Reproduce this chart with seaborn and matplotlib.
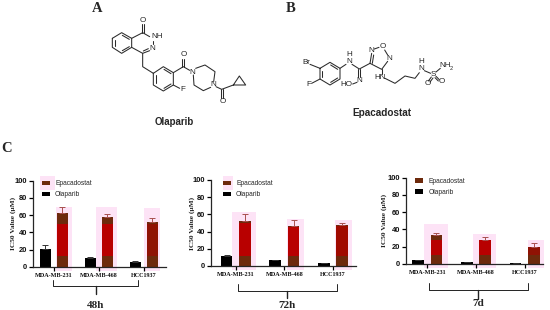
import numpy as np
import pandas as pd
import matplotlib
matplotlib.use("Agg")
import matplotlib.pyplot as plt
from matplotlib.patches import Rectangle
import seaborn as sns

W, H = 550, 310

cell_lines = ["MDA-MB-231", "MDA-MB-468", "HCC1937"]
drugs = ["Olaparib", "Epacadostat"]
times = ["48h", "72h", "7d"]

olaparib_48h = [21, 10.5, 5]
olaparib_48h_err = [4.5, 1, 1.5]
epacadostat_48h = [62, 58, 52]
epacadostat_48h_err = [8, 3.5, 5]

olaparib_72h = [12, 6.5, 3.5]
olaparib_72h_err = [0.5, 0.5, 0.3]
epacadostat_72h = [52, 46, 48]
epacadostat_72h_err = [8, 8, 2.5]

olaparib_7d = [4, 2, 0.7]
olaparib_7d_err = [0.4, 0.4, 0.2]
epacadostat_7d = [33.5, 28, 20]
epacadostat_7d_err = [2, 3.5, 3.5]

BROWN = "#6d2a0c"
PINK = "#fde3f6"
SERIF = "Liberation Serif"
SANS = "Liberation Sans"

sns.set_style("ticks")
plt.rcParams["patch.force_edgecolor"] = False
plt.rcParams["patch.linewidth"] = 0

fig = plt.figure(figsize=(W / 100, H / 100), dpi=100)


def px_axes(x0, y0, x1, y1, **kw):
    # axes from image pixels, y measured from the top
    return fig.add_axes([x0 / W, 1 - y1 / H, (x1 - x0) / W, (y1 - y0) / H], **kw)


panels = [
    dict(t=times[0], ol=olaparib_48h, ol_e=olaparib_48h_err, ep=epacadostat_48h, ep_e=epacadostat_48h_err,
         box=(33, 180.7, 166, 266.7), center=53.85, step=45, pair=17.2, width=0.246,
         ylab_x=13, leg=(41.7, 180.4), leg_halo=(40, 176, 15, 14),
         halo=[(56, 72, 70), (96, 117, 70), (144, 160, 68)],
         red=[(13, 50, "#b80000"), (13, 50, "#b80000"), (13, 50, "#8f1204")],
         br=(53.3, 138.3, 280, 285.7, 294), lab=(96, 305)),
    dict(t=times[1], ol=olaparib_72h, ol_e=olaparib_72h_err, ep=epacadostat_72h, ep_e=epacadostat_72h_err,
         box=(211, 180, 356, 266), center=235.7, step=48.7, pair=18.3, width=0.24,
         ylab_x=192, leg=(222.7, 180.2), leg_halo=(223, 176, 10, 14),
         halo=[(232, 256, 63), (287, 304, 55), (335, 352, 53)],
         red=[(12, 50, "#b80000"), (12, 45, "#b80000"), (12, 47, "#a00a00")],
         br=(238.3, 336.7, 284, 290.7, 298), lab=(287, 305)),
    dict(t=times[2], ol=olaparib_7d, ol_e=olaparib_7d_err, ep=epacadostat_7d, ep_e=epacadostat_7d_err,
         box=(405.7, 177.7, 543, 263.7), center=427.3, step=48.7, pair=18.3, width=0.24,
         ylab_x=384, leg=(415, 177.6), leg_halo=None,
         halo=[(424, 448, 46), (473, 496, 34), (528, 544, 28)],
         red=[(10, 28, "#b80000"), (10, 27.5, "#b80000"), (10, 19.5, "#8f1204")],
         br=(429, 528, 283, 290, 299), lab=(478, 304)),
]

# faint pink behind the legends, drawn under everything
bg = fig.add_axes([0, 0, 1, 1], zorder=-1)
bg.set_xlim(0, W)
bg.set_ylim(H, 0)
bg.axis("off")

for p in panels:
    if p["leg_halo"]:
        bg.add_patch(Rectangle(p["leg_halo"][:2], p["leg_halo"][2], p["leg_halo"][3], color=PINK, lw=0))

    x0, y0, x1, y1 = p["box"]
    ax = px_axes(x0, y0, x1, y1)
    df = pd.DataFrame({
        "line": cell_lines * 2,
        "drug": [drugs[0]] * 3 + [drugs[1]] * 3,
        "ic50": p["ol"] + p["ep"],
    })
    sw = p["pair"] / p["step"]
    sns.barplot(data=df, x="line", y="ic50", hue="drug", hue_order=drugs,
                palette=["black", BROWN], saturation=1, errorbar=None, linewidth=0,
                width=2 * sw, gap=1 - p["width"] / sw, ax=ax)
    to_x = lambda px: (px - p["center"]) / p["step"]

    ol_bars, ep_bars = ax.containers[0], ax.containers[1]
    ol_x = [b.get_x() + b.get_width() / 2 for b in ol_bars]
    ep_x = [b.get_x() + b.get_width() / 2 for b in ep_bars]
    bw = ep_bars[0].get_width()

    # pink and red print artefacts on the brown bars
    for (a, b, top) in p["halo"]:
        ax.bar((to_x(a) + to_x(b)) / 2, top + 5, bottom=-5, width=to_x(b) - to_x(a),
               color=PINK, zorder=0, clip_on=False, linewidth=0)
    for xx, (lo, hi, c) in zip(ep_x, p["red"]):
        ax.bar(xx, hi - lo, bottom=lo, width=bw, color=c, zorder=1.5, linewidth=0)

    ax.errorbar(ol_x, p["ol"], yerr=[[0] * 3, p["ol_e"]], fmt="none", ecolor="#333333",
                elinewidth=0.7, capsize=2.2, capthick=0.7, zorder=3)
    ax.errorbar(ep_x, p["ep"], yerr=[[0] * 3, p["ep_e"]], fmt="none", ecolor="#a8504e",
                elinewidth=0.7, capsize=2.5, capthick=0.7, zorder=3)

    ax.set_xlim(to_x(x0), to_x(x1))
    ax.set_ylim(0, 100)
    ax.patch.set_alpha(0)
    ax.set_yticks([0, 20, 40, 60, 80, 100])
    ax.set_xlabel("")
    ax.set_ylabel("")
    ax.set_xticks(range(3))
    ax.set_xticklabels(cell_lines, family=SERIF, weight="bold", fontsize=4.4)
    for t in ax.get_yticklabels():
        t.set(family=SANS, weight="bold", fontsize=5.4)
    ax.tick_params(axis="both", length=3, width=0.9, pad=1.2, color="black", labelcolor="#111111")
    sns.despine(ax=ax)
    for s in ["left", "bottom"]:
        ax.spines[s].set_linewidth(0.9)

    handles, labels = ax.get_legend_handles_labels()
    lx, ly = p["leg"]
    ax.legend(handles[::-1], labels[::-1], loc="upper left",
              bbox_to_anchor=((lx - x0) / (x1 - x0), (y1 - ly) / (y1 - y0)),
              frameon=False, borderpad=0, borderaxespad=0,
              handlelength=1.25, handleheight=0.67, handletextpad=0.75, labelspacing=0.6,
              prop=dict(family=SANS, size=4.8))

# overlay in image pixels for brackets, labels and the two structures
ov = fig.add_axes([0, 0, 1, 1], zorder=5)
ov.set_xlim(0, W)
ov.set_ylim(H, 0)
ov.axis("off")

for p in panels:
    xa, xb, top, mid, low = p["br"]
    xm = p["lab"][0]
    ov.plot([xa, xa, xb, xb], [top, mid, mid, top], color="#222222", lw=0.7)
    ov.plot([xm, xm], [mid, low], color="#222222", lw=1.0)
    ov.text(xm, p["lab"][1], p["t"], ha="center", va="center", family=SERIF, weight="bold", fontsize=8)
    ov.text(p["ylab_x"], (p["box"][1] + p["box"][3]) / 2, "IC50 Value (μM)", rotation=90,
            ha="center", va="center", family=SERIF, weight="bold", fontsize=5.3, color="#222222")

for s, x, y in [("A", 96.7, 8), ("B", 291, 8), ("C", 7, 148)]:
    ov.text(x, y, s, ha="center", va="center", family=SERIF, weight="bold", fontsize=10.5)
ov.text(174, 122, "Olaparib", ha="center", va="center", family=SANS, weight="bold", fontsize=7)
ov.text(381.7, 113, "Epacadostat", ha="center", va="center", family=SANS, weight="bold", fontsize=7.2)


def chain(points, ox, oy, lw=0.75):
    pts = np.array(points, float)
    ov.plot(ox + pts[:, 0] / 3, oy + pts[:, 1] / 3, color="#2a2a2a", lw=lw, solid_capstyle="round")


def atom(s, x, y, ox, oy, fs=5.8):
    ov.text(ox + x / 3, oy + y / 3, s, ha="center", va="center", family=SANS, fontsize=fs, color="#222222")


o = (105, 10)
chain([(22, 85), (50, 68), (80, 85), (80, 112), (50, 130), (22, 112), (22, 85)], *o)
chain([(29, 90), (29, 108)], *o)
chain([(52, 76), (73, 88)], *o)
chain([(52, 122), (73, 110)], *o)
chain([(80, 85), (113, 68), (134, 80)], *o)
chain([(145, 92), (145, 103)], *o)
chain([(134, 122), (113, 130), (80, 112)], *o)
chain([(130, 116), (115, 123)], *o)
chain([(110, 68), (110, 42)], *o)
chain([(116, 68), (116, 42)], *o)
chain([(113, 130), (113, 170), (145, 190)], *o)
chain([(145, 190), (175, 170), (205, 188), (205, 225), (175, 243), (145, 225), (145, 190)], *o)
chain([(152, 195), (152, 220)], *o)
chain([(177, 178), (198, 191)], *o)
chain([(177, 235), (198, 222)], *o)
chain([(205, 225), (224, 235)], *o)
chain([(205, 188), (235, 170), (254, 181)], *o)
chain([(232, 170), (232, 146)], *o)
chain([(238, 170), (238, 146)], *o)
for s, x, y in [("O", 113, 30), ("NH", 156, 80), ("N", 143, 115), ("F", 233, 238), ("O", 235, 133), ("N", 263, 186)]:
    atom(s, x, y, *o)

o2 = (50, 0)
chain([(437, 205), (465, 195), (495, 215), (491, 245)], *o2)
chain([(482, 262), (460, 272), (432, 255), (430, 225)], *o2)
chain([(498, 260), (515, 268), (550, 255), (568, 228), (587, 255), (550, 255)], *o2)
chain([(512, 268), (512, 293)], *o2)
chain([(518, 268), (518, 293)], *o2)
atom("N", 490, 254, *o2)
atom("O", 518, 305, *o2)

# Epacadostat
e = (260, 0)
chain([(180, 205), (210, 187), (240, 205), (240, 237), (210, 255), (180, 237), (180, 205)], *e)
chain([(212, 195), (233, 208)], *e)
chain([(233, 234), (212, 247)], *e)
chain([(187, 212), (187, 232)], *e)
chain([(150, 193), (180, 205)], *e)
chain([(155, 250), (180, 237)], *e)
chain([(240, 205), (258, 193)], *e)
chain([(276, 193), (298, 207), (330, 190)], *e)
chain([(295, 207), (295, 230)], *e)
chain([(301, 207), (301, 230)], *e)
chain([(291, 247), (278, 252)], *e)
chain([(330, 190), (335, 160)], *e)
chain([(337, 190), (341, 165)], *e)
chain([(343, 147), (357, 142)], *e)
chain([(374, 150), (383, 165)], *e)
chain([(383, 184), (365, 208), (330, 190)], *e)
chain([(365, 208), (365, 222)], *e)
chain([(375, 235), (405, 250), (435, 228), (465, 235), (478, 218)], *e)
chain([(493, 212), (512, 220)], *e)
chain([(528, 216), (541, 205)], *e)
chain([(514, 231), (505, 243)], *e)
chain([(519, 234), (510, 246)], *e)
chain([(528, 229), (538, 239)], *e)
chain([(525, 233), (535, 243)], *e)
for s, x, y in [("Br", 140, 186), ("F", 147, 255), ("H", 267, 162), ("N", 267, 185), ("N", 298, 240),
                ("HO", 260, 255), ("N", 333, 150), ("O", 367, 140), ("N", 387, 175), ("HN", 360, 233),
                ("H", 485, 185), ("N", 485, 207), ("S", 520, 222), ("NH", 555, 197), ("O", 503, 250), ("O", 545, 245)]:
    atom(s, x, y, *e)
atom("2", 575, 205, *e, fs=4)

fig.savefig("out.png", dpi=100)
